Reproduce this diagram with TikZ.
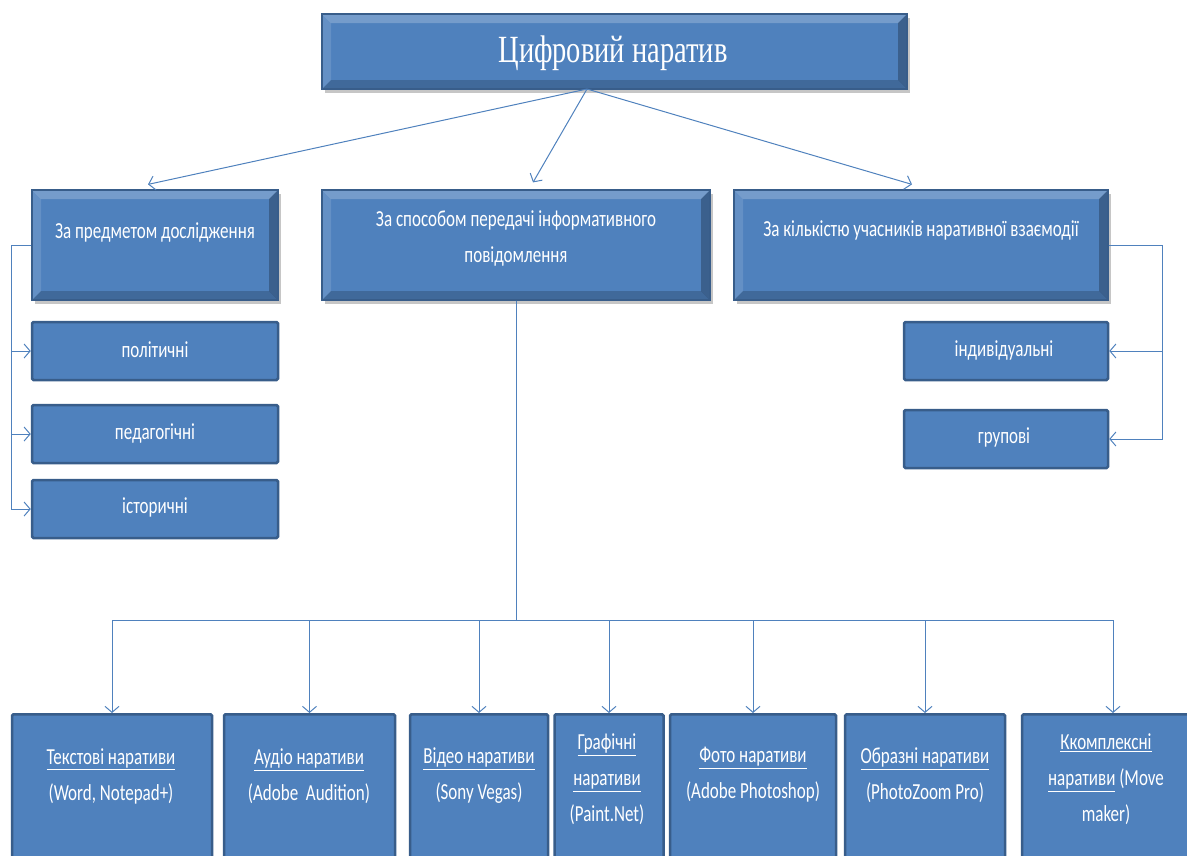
\documentclass[tikz,border=0pt]{standalone}
\usepackage{graphicx}
\usepackage{fontspec}
\setmainfont{Carlito}
\newfontfamily\titlefont{Liberation Serif}
\usetikzlibrary{arrows.meta,positioning,shadows}

\definecolor{boxblue}{RGB}{79,129,189}
\definecolor{boxedge}{RGB}{56,93,138}
\definecolor{linkblue}{RGB}{79,129,189}

% the reference letters are drawn taller than wide
\newcommand{\tall}[1]{\scalebox{1}[1.35]{#1}}

\begin{document}
\begin{tikzpicture}[x=1pt,y=-1pt,
    conn/.style={draw=linkblue, line width=1pt, -{Straight Barb[length=6pt,width=14pt]}},
    bevel/.style={fill=boxblue, draw=boxedge, line width=1.2pt,
      drop shadow={shadow xshift=3pt,shadow yshift=-4pt,opacity=.45},
      path picture={
        \fill[white,opacity=.22] (path picture bounding box.north west) -- (path picture bounding box.north east)
          -- ([shift={(-9pt,-9pt)}]path picture bounding box.north east) -- ([shift={(9pt,-9pt)}]path picture bounding box.north west) -- cycle;
        \fill[white,opacity=.12] (path picture bounding box.north west) -- (path picture bounding box.south west)
          -- ([shift={(9pt,9pt)}]path picture bounding box.south west) -- ([shift={(9pt,-9pt)}]path picture bounding box.north west) -- cycle;
        \fill[black,opacity=.25] (path picture bounding box.north east) -- (path picture bounding box.south east)
          -- ([shift={(-9pt,9pt)}]path picture bounding box.south east) -- ([shift={(-9pt,-9pt)}]path picture bounding box.north east) -- cycle;
        \fill[black,opacity=.18] (path picture bounding box.south west) -- (path picture bounding box.south east)
          -- ([shift={(-9pt,9pt)}]path picture bounding box.south east) -- ([shift={(9pt,9pt)}]path picture bounding box.south west) -- cycle;
      }},
    leaf/.style={fill=boxblue, draw=boxedge, line width=2.5pt, rounded corners=1.5pt},
    boxtext/.style={text=white, align=center, inner sep=0pt, font=\fontsize{17}{36}\selectfont}]

  \useasboundingbox (0,0) rectangle (1187,855);
  \clip (0,0) rectangle (1187,855);

  % top level
  \node[bevel, minimum width=585pt, minimum height=75pt] (title) at (614.5,51.5) {};
  \node[text=white, inner sep=0pt, font=\titlefont\fontsize{28.5}{36}\selectfont] (titletext) at (613,53) {\tall{Цифровий наратив}};
  \coordinate (hub) at (587,89);

  \node[bevel, minimum width=246pt, minimum height=110pt] (subj) at (155,245) {};
  \node[bevel, minimum width=388pt, minimum height=110pt] (way) at (516,245) {};
  \node[bevel, minimum width=374pt, minimum height=110pt] (count) at (921,245) {};
  \node[boxtext] (subjtext) at (155,232) {\tall{За предметом дослідження}};
  \node[boxtext] (waytext) at (516,238) {\tall{За способом передачі інформативного}\\\tall{повідомлення}};
  \node[boxtext] (counttext) at (921,230) {\tall{За кількістю учасників наративної взаємодії}};

  \draw[conn] (hub) -- ([xshift=-7pt,yshift=5pt]subj.north);
  \draw[conn] (hub) -- ([xshift=17pt,yshift=7pt]way.north);
  \draw[conn] (hub) -- ([xshift=-9pt,yshift=5pt]count.north);

  % left branch
  \node[leaf, minimum width=246pt, minimum height=58pt] (pol) at (155,351) {};
  \node[leaf, minimum width=246pt, minimum height=58pt] (ped) at (155,434) {};
  \node[leaf, minimum width=246pt, minimum height=58pt] (ist) at (155,509) {};
  \node[boxtext] (poltext) at (155,350) {\tall{політичні}};
  \node[boxtext] (pedtext) at (155,433) {\tall{педагогічні}};
  \node[boxtext] (isttext) at (155,507) {\tall{історичні}};
  \coordinate (lbus) at ([xshift=-20pt]subj.west);
  \foreach \c in {pol,ped,ist}
    \draw[conn] (subj.west) -- (lbus) |- (\c.west);

  % right branch
  \node[leaf, minimum width=204pt, minimum height=58pt] (ind) at (1006,351) {};
  \node[leaf, minimum width=204pt, minimum height=58pt] (grp) at (1006,439) {};
  \node[boxtext] (indtext) at (1004,350) {\tall{індивідуальні}};
  \node[boxtext] (grptext) at (1004,437) {\tall{групові}};
  \coordinate (rbus) at ([xshift=54pt]count.east);
  \foreach \c in {ind,grp}
    \draw[conn] (count.east) -- (rbus) |- (\c.east);

  % bottom row
  \node[leaf, minimum width=200pt, minimum height=170pt, anchor=north] (txt) at (112,713) {};
  \node[leaf, minimum width=171pt, minimum height=170pt, anchor=north] (aud) at (309.5,713) {};
  \node[leaf, minimum width=138pt, minimum height=170pt, anchor=north] (vid) at (479,713) {};
  \node[leaf, minimum width=109pt, minimum height=170pt, anchor=north] (gra) at (609,713) {};
  \node[leaf, minimum width=166pt, minimum height=170pt, anchor=north] (pho) at (753,713) {};
  \node[leaf, minimum width=160pt, minimum height=170pt, anchor=north] (img) at (925,713) {};
  \node[leaf, minimum width=182pt, minimum height=170pt, anchor=north] (cmp) at (1113,713) {};

  \node[boxtext] (txttext) at (111,776) {\tall{\underline{Текстові наративи}}\\\tall{(Word, Notepad+)}};
  \node[boxtext] (audtext) at (309,776) {\tall{\underline{Аудіо наративи}}\\\tall{(Adobe\ \ Audition)}};
  \node[boxtext] (vidtext) at (479,776) {\tall{\underline{Відео наративи}}\\\tall{(Sony Vegas)}};
  \node[boxtext] (gratext) at (607,779) {\tall{\underline{Графічні}}\\\tall{\underline{наративи}}\\\tall{(Paint.Net)}};
  \node[boxtext] (photext) at (753,775) {\tall{\underline{Фото наративи}}\\\tall{(Adobe Photoshop)}};
  \node[boxtext] (imgtext) at (925,775) {\tall{\underline{Образні наративи}}\\\tall{(PhotoZoom Pro)}};
  \node[boxtext] (cmptext) at (1106,779) {\tall{\underline{Ккомплексні}}\\\tall{\underline{наративи} (Move}\\\tall{maker)}};

  \coordinate (bbus) at ([yshift=-320pt]way.south);
  \foreach \c in {txt,aud,vid,gra,pho,img,cmp}
    \draw[conn] (way.south) -- (bbus) -| (\c.north);
\end{tikzpicture}
\end{document}
